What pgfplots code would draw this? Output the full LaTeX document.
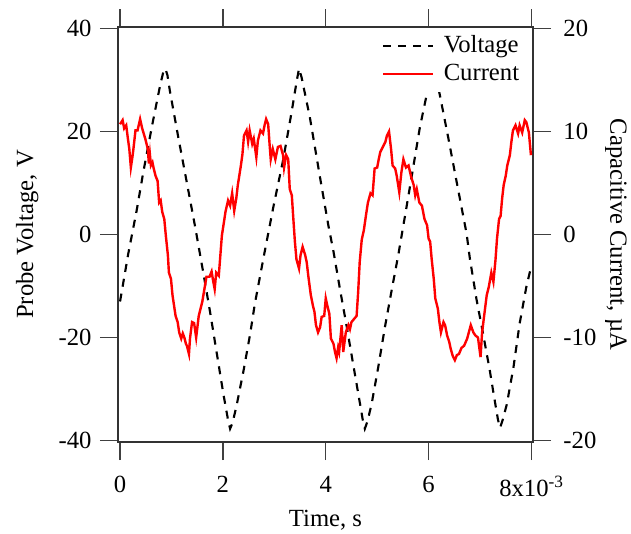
\documentclass[border=0pt]{standalone}
\usepackage{fontspec}
\setmainfont{Liberation Serif}
\usepackage{pgfplots}
\pgfplotsset{compat=1.18}
\usepackage{pgfplotstable}

\pgfplotstableread{
t V
0.00000 -13.0
0.00016 -3.7
0.00032 4.5
0.00045 12.0
0.00062 21.0
0.00078 29.0
0.00084 31.5
0.00088 32.2
0.00092 31.0
0.00097 27.8
0.00113 19.0
0.00130 10.0
0.00146 1.5
0.00162 -7.5
0.00175 -15.0
0.00188 -23.0
0.00201 -31.0
0.00210 -36.0
0.00214 -37.7
0.00219 -36.5
0.00227 -33.0
0.00240 -26.5
0.00253 -19.3
0.00262 -13.5
0.00279 -4.5
0.00298 5.3
0.00317 14.4
0.00334 24.0
0.00343 29.5
0.00348 32.2
0.00353 30.5
0.00369 22.8
0.00389 11.0
0.00405 1.8
0.00415 -3.3
0.00428 -10.8
0.00441 -18.0
0.00453 -25.0
0.00466 -32.5
0.00472 -36.0
0.00476 -37.7
0.00481 -36.3
0.00489 -33.0
0.00502 -25.8
0.00515 -18.0
0.00528 -10.9
0.00541 -4.0
0.00557 5.3
0.00570 13.0
0.00583 20.8
0.00596 27.0
0.00604 31.0
0.00609 32.2
0.00614 31.0
0.00622 27.0
0.00638 18.9
0.00654 10.5
0.00674 0.1
0.00680 -4.5
0.00693 -12.5
0.00706 -19.3
0.00719 -26.4
0.00729 -32.5
0.00735 -36.0
0.00739 -37.5
0.00744 -36.0
0.00752 -33.0
0.00765 -25.8
0.00777 -17.3
0.00790 -10.2
0.00800 -6.0
}\voltage

\pgfplotstableread{
t I
0.00000 10.7
0.00005 11.1
0.00008 10.3
0.00012 10.6
0.00015 9.4
0.00018 8.3
0.00021 6.5
0.00024 7.5
0.00026 8.3
0.00030 10.1
0.00034 10.1
0.00039 11.2
0.00043 10.3
0.00049 9.3
0.00054 8.3
0.00056 6.9
0.00058 7.8
0.00060 6.7
0.00063 7.0
0.00065 6.5
0.00069 5.7
0.00073 5.2
0.00076 3.1
0.00079 3.3
0.00082 2.2
0.00086 1.5
0.00089 -0.1
0.00093 -2.0
0.00095 -3.7
0.00099 -4.3
0.00102 -5.9
0.00108 -7.9
0.00112 -8.5
0.00115 -9.5
0.00119 -10.1
0.00122 -9.6
0.00125 -10.0
0.00128 -10.6
0.00130 -10.8
0.00134 -11.6
0.00136 -10.1
0.00140 -8.5
0.00144 -8.6
0.00148 -10.0
0.00153 -7.9
0.00157 -7.1
0.00160 -6.5
0.00163 -5.6
0.00168 -4.1
0.00174 -4.1
0.00178 -3.6
0.00181 -4.5
0.00184 -5.3
0.00187 -3.7
0.00192 -4.0
0.00196 -1.4
0.00198 -0.1
0.00202 1.2
0.00205 2.2
0.00210 3.3
0.00214 2.8
0.00218 4.0
0.00222 2.3
0.00226 3.5
0.00229 4.8
0.00235 6.7
0.00238 7.8
0.00241 9.6
0.00246 10.1
0.00249 9.0
0.00252 10.1
0.00257 8.8
0.00260 9.3
0.00265 7.5
0.00268 9.1
0.00273 10.1
0.00278 9.8
0.00281 10.6
0.00284 11.2
0.00288 10.7
0.00291 8.6
0.00293 7.3
0.00297 8.3
0.00302 7.3
0.00307 8.5
0.00312 8.6
0.00317 7.7
0.00319 6.5
0.00323 7.7
0.00327 7.3
0.00330 4.4
0.00334 3.8
0.00337 1.5
0.00340 -0.7
0.00343 -2.4
0.00348 -3.3
0.00351 -2.0
0.00355 -1.2
0.00360 -2.0
0.00363 -2.7
0.00366 -4.0
0.00371 -5.9
0.00375 -6.9
0.00378 -7.5
0.00381 -8.8
0.00385 -9.5
0.00389 -9.0
0.00392 -8.0
0.00397 -7.9
0.00400 -6.2
0.00403 -6.9
0.00407 -7.7
0.00410 -10.1
0.00415 -10.6
0.00418 -11.4
0.00421 -12.0
0.00424 -11.0
0.00426 -11.4
0.00431 -8.8
0.00434 -11.4
0.00439 -9.5
0.00444 -8.8
0.00447 -9.2
0.00450 -8.5
0.00455 -8.2
0.00460 -7.9
0.00463 -5.6
0.00466 -2.7
0.00470 -0.5
0.00474 0.4
0.00478 1.8
0.00482 3.1
0.00487 4.0
0.00491 3.8
0.00495 6.4
0.00500 6.5
0.00503 7.3
0.00506 8.0
0.00511 8.5
0.00516 9.0
0.00519 9.6
0.00523 10.0
0.00527 8.3
0.00530 6.7
0.00535 6.4
0.00538 5.7
0.00543 4.1
0.00547 6.0
0.00551 7.3
0.00556 6.5
0.00561 6.7
0.00566 5.6
0.00571 4.8
0.00574 3.8
0.00577 4.4
0.00582 3.1
0.00587 2.8
0.00592 1.5
0.00597 0.9
0.00600 -0.4
0.00603 -0.7
0.00606 -2.4
0.00610 -4.3
0.00613 -6.2
0.00618 -7.2
0.00621 -8.5
0.00624 -9.5
0.00629 -8.5
0.00632 -8.8
0.00636 -9.8
0.00640 -10.4
0.00643 -11.1
0.00647 -11.8
0.00651 -12.2
0.00655 -11.7
0.00659 -11.6
0.00664 -11.0
0.00669 -10.8
0.00675 -10.1
0.00682 -8.8
0.00687 -9.5
0.00691 -9.8
0.00696 -10.0
0.00701 -11.9
0.00704 -9.5
0.00709 -7.5
0.00713 -5.9
0.00717 -5.1
0.00722 -3.7
0.00726 -4.6
0.00730 -2.5
0.00733 -0.4
0.00737 1.5
0.00740 1.8
0.00743 3.5
0.00746 4.8
0.00750 5.7
0.00753 6.7
0.00758 7.7
0.00761 9.0
0.00764 10.1
0.00769 10.6
0.00774 9.8
0.00777 10.6
0.00782 9.9
0.00787 11.1
0.00790 10.9
0.00795 9.9
0.00799 7.7
}\current

\begin{document}
\fontsize{18.5}{22}\selectfont
\begin{tikzpicture}
\path[use as bounding box] (-88.5pt,-68.25pt) rectangle (384.75pt,331.5pt);
\pgfplotsset{
  common/.style={
    at={(0pt,0pt)}, anchor=south west,
    scale only axis, width=311.25pt, height=311.25pt,
    xmin=-0.00004, xmax=0.00803,
    tick align=outside, major tick length=13.5pt,
    every tick/.style={black!75, line width=1pt},
    axis line style={black!80, line width=0.8pt},
    minor tick num=0,
    scaled x ticks=false,
  }
}
\begin{axis}[
  common,
  ymin=-40.28, ymax=40.28,
  xtick={0,0.002,0.004,0.006,0.008},
  xticklabels={0,2,4,6,8x10\textsuperscript{-3}},
  xtick pos=both, xticklabel pos=bottom,
  xticklabel style={yshift=-6pt},
  ytick={-40,-20,0,20,40},
  yticklabels={-40,-20,0,20,40},
  ytick pos=left,
  xlabel={Time, s},
  ylabel={Probe Voltage, V},
  every axis x label/.style={at={(axis description cs:0.5,-0.188)},anchor=center},
  every axis y label/.style={at={(axis description cs:-0.219,0.5)},rotate=90,anchor=center},
]
\addplot[black, line width=1.6pt, dash pattern=on 6pt off 5.25pt] table[x=t,y=V]{\voltage};
\end{axis}
\begin{axis}[
  common,
  ymin=-20.14, ymax=20.14,
  axis x line=none,
  axis y line*=right,
  ytick={-20,-10,0,10,20},
  yticklabels={-20,-10,0,10,20},
  yticklabel style={xshift=3pt},
  ylabel={Capacitive Current, µA},
  every axis y label/.style={at={(axis description cs:1.2,0.5)},rotate=-90,anchor=center},
  legend image code/.code={\draw[#1] (0pt,0pt) -- (37.5pt,0pt); \path (44pt,0pt);},
  legend cell align=left,
  legend style={at={(axis description cs:0.972,0.998)}, anchor=north east,
    draw=none, fill=white, inner xsep=1pt, inner ysep=5pt, row sep=5pt, nodes={inner sep=0.5pt}},
]
\addlegendimage{black, line width=1.6pt, dash pattern=on 6pt off 5.25pt}
\addlegendentry{Voltage}
\addplot[red, line width=1.8pt] table[x=t,y=I]{\current};
\addlegendentry{Current}
\end{axis}
\end{tikzpicture}
\end{document}
